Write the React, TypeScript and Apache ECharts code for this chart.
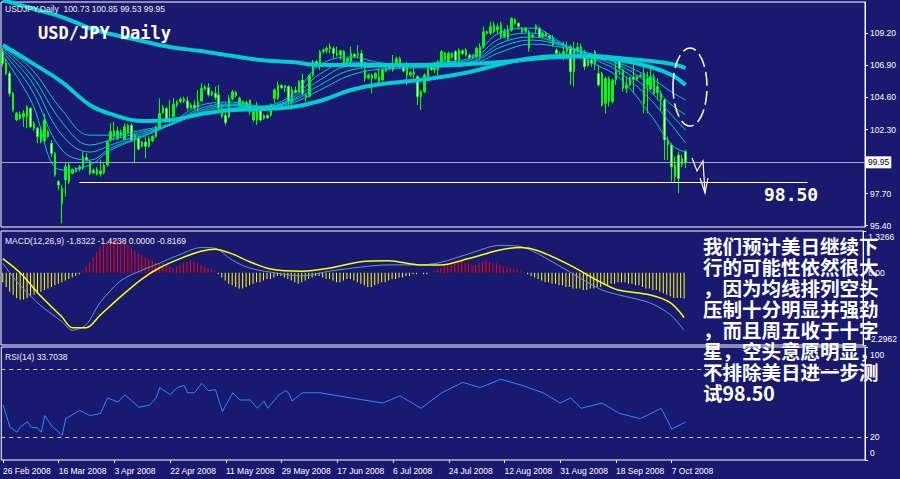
import React, { useEffect, useRef } from 'react';
import * as echarts from 'echarts';

const N_SLOTS = 248;
const xTickIdx = [0, 16, 32, 48, 64, 80, 96, 112, 128, 144, 160, 176, 192];
const xTickLabels = ['26 Feb 2008', '16 Mar 2008', '3 Apr 2008', '22 Apr 2008', '11 May 2008', '29 May 2008', '17 Jun 2008', '6 Jul 2008', '24 Jul 2008', '12 Aug 2008', '31 Aug 2008', '18 Sep 2008', '7 Oct 2008'];

// [open, close, low, high]
const candles: number[][] = [
  [107.89, 107.05, 106.81, 108.13], [107.05, 106.33, 106.2, 107.4], [106.33, 104.9, 104.66, 106.45], [104.9, 103.7, 103.58, 105.0],
  [103.0, 103.46, 102.9, 103.55], [103.4, 103.1, 103.0, 103.6], [103.2, 103.46, 102.51, 103.7], [103.22, 103.94, 102.39, 104.06],
  [103.82, 102.51, 102.4, 103.9], [102.4, 102.74, 102.2, 102.9], [102.39, 101.79, 101.31, 102.51], [102.27, 101.43, 101.31, 102.51],
  [101.5, 103.0, 101.4, 103.45], [102.15, 101.8, 101.7, 102.3], [101.31, 100.59, 100.35, 101.55], [100.59, 99.04, 98.92, 100.71],
  [98.56, 98.32, 97.96, 98.68], [98.08, 97.0, 95.57, 98.32], [98.68, 99.63, 97.48, 99.87], [99.75, 98.56, 98.4, 99.9],
  [99.16, 99.4, 99.1, 99.5], [99.3, 99.5, 99.2, 99.6], [99.45, 99.63, 99.3, 99.75], [99.51, 100.35, 99.4, 100.71],
  [100.3, 100.1, 100.0, 100.6], [99.99, 99.16, 99.04, 100.11], [99.2, 99.4, 99.1, 99.5], [99.45, 99.1, 99.0, 99.6],
  [99.1, 99.35, 98.92, 100.11], [99.2, 99.75, 99.1, 99.9], [99.75, 101.43, 99.63, 101.55], [101.55, 102.15, 101.4, 102.74],
  [102.2, 101.8, 101.55, 102.86], [101.7, 102.2, 101.55, 102.5], [102.1, 101.85, 101.7, 102.3], [101.6, 102.5, 101.55, 102.74],
  [102.1, 102.6, 102.0, 102.7], [102.6, 101.55, 101.43, 102.74], [101.6, 101.9, 99.87, 102.0], [101.7, 100.9, 100.83, 101.9],
  [101.1, 101.4, 101.0, 101.5], [101.4, 101.1, 100.23, 101.79], [101.1, 101.65, 101.0, 101.8], [101.5, 101.8, 101.4, 101.9],
  [101.8, 102.5, 101.7, 102.6], [102.45, 103.46, 102.39, 104.54], [103.5, 103.9, 103.4, 104.06], [103.8, 103.1, 103.0, 103.9],
  [103.1, 102.9, 102.74, 104.42], [103.2, 104.1, 103.2, 104.54], [104.05, 104.3, 103.9, 104.4], [104.3, 104.5, 104.2, 104.6],
  [104.5, 104.35, 104.2, 104.66], [104.35, 103.85, 103.7, 104.66], [103.85, 104.05, 103.8, 104.2], [104.05, 103.85, 103.7, 104.42],
  [103.9, 104.3, 103.6, 105.14], [104.35, 105.26, 104.3, 105.62], [105.2, 105.38, 105.1, 105.5], [105.3, 104.8, 104.66, 105.62],
  [104.8, 105.0, 104.7, 105.1], [104.9, 104.6, 104.42, 105.38], [104.78, 103.82, 103.7, 105.5], [103.82, 103.25, 103.1, 103.94],
  [103.3, 102.8, 102.6, 103.46], [103.2, 104.5, 103.1, 104.78], [104.5, 105.0, 104.4, 105.14], [104.95, 104.75, 104.6, 105.1],
  [104.06, 104.54, 103.94, 104.66], [104.3, 103.95, 103.9, 104.4], [104.0, 104.25, 103.95, 104.35], [104.42, 103.58, 103.34, 104.45],
  [102.98, 103.58, 102.86, 103.7], [102.98, 103.94, 102.62, 104.3], [103.94, 102.98, 102.9, 104.0], [103.1, 103.3, 103.0, 103.4],
  [103.3, 103.15, 103.05, 103.4], [103.34, 104.06, 103.22, 104.18], [104.54, 105.14, 104.18, 105.26], [104.54, 105.5, 104.42, 105.74],
  [105.45, 105.3, 105.2, 105.55], [105.3, 105.45, 105.0, 105.5], [105.38, 104.3, 103.94, 105.5], [104.3, 105.14, 103.94, 105.38],
  [105.1, 104.95, 104.9, 105.38], [105.0, 105.74, 104.95, 105.85], [105.85, 104.9, 104.78, 106.33], [104.78, 104.6, 104.3, 104.9],
  [104.66, 106.21, 104.6, 106.3], [106.21, 107.17, 106.09, 107.29], [107.17, 106.93, 106.81, 107.29], [106.81, 107.89, 106.57, 108.01],
  [107.9, 108.01, 107.75, 108.1], [108.0, 108.13, 107.77, 108.25], [108.1, 108.25, 107.77, 108.49], [108.13, 107.77, 107.41, 108.25],
  [107.75, 107.65, 107.53, 108.25], [107.65, 107.95, 107.29, 108.01], [107.89, 107.17, 107.05, 108.01], [107.2, 107.4, 107.1, 107.45],
  [107.17, 107.77, 107.05, 108.25], [107.7, 107.55, 107.45, 107.8], [107.65, 107.77, 107.41, 108.37], [107.77, 106.81, 106.69, 108.01],
  [106.57, 105.97, 105.74, 106.69], [106.0, 106.21, 105.9, 106.3], [106.2, 105.97, 104.9, 106.33], [105.97, 106.33, 105.9, 106.4],
  [106.09, 105.74, 105.62, 106.69], [105.85, 106.57, 105.74, 106.69], [106.5, 106.65, 106.4, 106.75], [106.65, 106.8, 106.55, 106.9],
  [106.57, 107.05, 106.45, 107.65], [107.05, 107.38, 106.81, 107.53], [107.41, 106.81, 106.69, 107.53], [106.81, 106.5, 106.4, 106.9],
  [106.81, 106.21, 105.5, 107.17], [106.21, 106.4, 106.05, 106.5], [106.45, 106.25, 105.97, 106.69], [106.09, 104.66, 104.06, 106.21],
  [104.66, 105.02, 103.7, 105.14], [105.02, 106.21, 104.9, 106.33], [106.09, 106.81, 105.97, 106.93], [106.8, 106.6, 106.5, 106.95],
  [106.6, 106.75, 106.33, 106.93], [106.57, 107.17, 105.97, 107.29], [107.17, 107.89, 107.05, 108.01], [107.77, 107.29, 107.17, 107.89],
  [107.17, 107.77, 107.05, 107.89], [107.75, 107.45, 107.4, 107.85], [107.89, 107.29, 107.17, 108.01], [107.29, 108.01, 107.17, 108.13],
  [107.95, 107.75, 107.65, 108.05], [108.01, 107.65, 107.53, 108.13], [107.65, 107.45, 107.35, 107.75], [107.45, 107.6, 107.35, 107.7],
  [107.53, 108.13, 107.41, 108.25], [107.53, 108.25, 107.41, 108.49], [108.25, 109.32, 108.13, 109.68], [109.32, 109.2, 109.1, 109.4],
  [109.2, 109.68, 109.1, 110.04], [109.8, 109.32, 109.2, 110.04], [109.45, 109.68, 109.2, 109.92], [109.8, 108.97, 108.85, 110.04],
  [108.97, 109.32, 108.85, 109.56], [108.85, 109.44, 108.73, 109.8], [109.44, 110.28, 109.32, 110.35], [110.2, 109.92, 109.8, 110.28],
  [109.92, 109.7, 109.6, 110.0], [109.56, 109.32, 109.2, 109.68], [109.35, 109.55, 109.25, 109.65], [109.32, 108.13, 107.89, 109.44],
  [108.95, 109.1, 108.85, 109.2], [109.75, 109.5, 109.2, 109.85], [109.56, 108.97, 108.85, 109.65], [108.97, 109.2, 108.85, 109.3],
  [109.2, 109.0, 108.9, 109.3], [109.0, 108.85, 108.7, 109.1], [108.85, 108.37, 108.25, 109.08], [108.0, 107.77, 107.53, 108.13],
  [107.75, 107.6, 107.5, 107.9], [107.65, 107.89, 107.29, 108.61], [107.89, 108.13, 107.41, 108.61], [108.25, 106.45, 105.5, 108.37],
  [106.45, 107.95, 105.38, 108.61], [107.95, 108.2, 107.8, 108.55], [108.25, 107.65, 107.41, 108.49], [107.65, 106.81, 106.57, 108.01],
  [106.9, 107.3, 106.8, 107.45], [107.3, 107.05, 106.81, 107.65], [107.89, 107.05, 106.57, 108.01], [106.33, 105.5, 105.38, 106.93],
  [106.33, 104.06, 103.94, 106.45], [104.18, 105.97, 103.46, 106.09], [105.97, 104.3, 103.94, 106.09], [104.3, 105.85, 104.18, 105.97],
  [105.85, 106.57, 105.5, 107.17], [107.29, 106.69, 106.21, 107.41], [106.57, 105.26, 105.02, 106.69], [105.26, 105.5, 104.9, 106.09],
  [105.5, 106.05, 105.4, 106.1], [106.05, 105.9, 104.9, 106.93], [105.9, 106.1, 105.8, 106.15], [106.1, 106.2, 106.0, 106.3],
  [106.33, 104.18, 103.46, 106.93], [105.5, 105.97, 103.46, 106.45], [105.2, 106.09, 105.14, 106.81], [106.09, 104.9, 104.78, 106.33],
  [104.95, 105.4, 104.42, 105.97], [104.9, 104.42, 103.7, 105.14], [104.42, 101.55, 100.11, 104.54], [101.55, 101.19, 100.11, 101.79],
  [101.19, 99.63, 98.56, 101.31], [98.92, 99.75, 98.56, 100.35], [100.47, 98.8, 97.72, 100.71], [99.8, 100.2, 99.6, 100.5],
  [100.73, 99.95, 99.53, 100.85],
];

// moving averages read at sample bars
const maIdx = [0, 8, 17, 25, 31, 40, 48, 57, 66, 74, 83, 91, 100, 109, 117, 126, 134, 143, 152, 160, 169, 177, 186, 192, 196];
const maLong = [111.59, 111.02, 110.37, 109.58, 109.15, 108.65, 108.22, 107.93, 107.57, 107.29, 107.14, 106.93, 106.93, 106.93, 106.93, 106.93, 107.0, 107.14, 107.36, 107.5, 107.57, 107.43, 107.22, 107.0, 106.71];
const maMid = [108.36, 107.14, 105.71, 104.06, 103.42, 102.91, 102.98, 103.42, 103.7, 103.77, 103.92, 104.35, 105.14, 105.57, 105.78, 106.07, 106.43, 107.0, 107.43, 107.57, 107.5, 107.29, 106.79, 106.21, 105.49];
const ema1 = [107.64, 104.42, 99.4, 99.75, 100.83, 101.76, 102.69, 104.06, 104.27, 103.99, 104.77, 106.93, 107.5, 107.07, 107.0, 107.14, 107.43, 109.29, 109.58, 108.58, 107.14, 106.0, 103.34, 101.19, 100.69];
const ema2 = [107.86, 105.28, 100.83, 100.11, 100.97, 101.83, 102.62, 103.84, 104.13, 103.91, 104.56, 106.28, 107.14, 107.0, 106.93, 107.07, 107.29, 108.86, 109.22, 108.5, 107.43, 106.42, 104.42, 102.62, 101.33];
const ema3 = [108.0, 105.85, 101.9, 100.69, 101.19, 101.98, 102.62, 103.7, 104.06, 103.91, 104.42, 105.85, 106.86, 106.86, 106.86, 107.0, 107.14, 108.5, 108.94, 108.43, 107.57, 106.71, 104.99, 103.34, 102.26];
const ema4 = [108.15, 106.28, 102.84, 101.19, 101.55, 102.12, 102.62, 103.56, 103.99, 103.91, 104.34, 105.49, 106.57, 106.78, 106.78, 106.93, 107.07, 108.22, 108.72, 108.36, 107.72, 106.93, 105.49, 104.06, 103.34];
const ema5 = [108.22, 106.71, 103.7, 101.9, 101.9, 102.26, 102.69, 103.41, 103.84, 103.91, 104.2, 105.13, 106.21, 106.64, 106.71, 106.78, 106.93, 107.86, 108.43, 108.22, 107.72, 107.07, 106.0, 104.99, 104.42];

// MACD (histogram per bar, lines at sample bars)
const macdHist = [
  -0.3, -0.45, -0.6, -0.7, -0.8, -0.85, -0.85, -0.8, -0.75, -0.7, -0.65,
  -0.6, -0.55, -0.5, -0.45, -0.4, -0.35, -0.3, -0.25, -0.2, -0.15, -0.1, -0.05, 0.05,
  0.2, 0.35, 0.5, 0.65, 0.8, 0.9, 1.0, 1.05, 1.1, 1.05, 1.0, 0.95, 0.9, 0.8, 0.7, 0.6, 0.55,
  0.5, 0.45, 0.4, 0.35, 0.3, 0.3, 0.25, 0.2, 0.15, 0.2, 0.25, 0.3, 0.35, 0.4, 0.35, 0.3, 0.25, 0.2, 0.15, 0.1,
  0.05, -0.05, -0.15, -0.25, -0.35, -0.4, -0.45, -0.5, -0.5, -0.45, -0.4, -0.35, -0.3, -0.3, -0.25, -0.2, -0.2, -0.15, -0.1, -0.1,
  -0.15, -0.2, -0.25, -0.3, -0.35, -0.3, -0.25, -0.2, -0.15, -0.1, -0.1, -0.15, -0.2, -0.2, -0.25, -0.3, -0.3, -0.25, -0.2, -0.2,
  -0.25, -0.3, -0.35, -0.4, -0.45, -0.45, -0.4, -0.35, -0.3, -0.3, -0.25, -0.2, -0.2, -0.15, -0.15, -0.1, -0.1, -0.05, -0.05, 0.0, -0.05, -0.05, 0.0, 0.05, 0.1,
  0.15, 0.2, 0.25, 0.3, 0.3, 0.35, 0.35, 0.3, 0.3, 0.25, 0.25, 0.3, 0.35, 0.4, 0.35, 0.3, 0.3, 0.25, 0.2, 0.2, 0.15, 0.1, 0.1, 0.05, 0.0,
  -0.05, -0.1, -0.15, -0.2, -0.25, -0.3, -0.3, -0.35, -0.35, -0.4, -0.4, -0.45, -0.45, -0.5, -0.5, -0.5, -0.55, -0.55, -0.5, -0.5, -0.45, -0.45, -0.4, -0.4, -0.35,
  -0.35, -0.3, -0.3, -0.3, -0.35, -0.35, -0.4, -0.4, -0.45, -0.5, -0.5, -0.55, -0.55, -0.6, -0.65, -0.7, -0.75, -0.8, -0.8, -0.8, -0.82,
];
const lineIdx = [0, 5, 11, 17, 20, 24, 28, 34, 40, 45, 51, 57, 61, 66, 71, 77, 86, 94, 103, 111, 120, 126, 134, 143, 149, 154, 163, 172, 177, 186, 192, 196];
const difVals = [0.3, -0.4, -1.05, -1.55, -1.83, -1.65, -0.95, -0.25, 0.08, 0.3, 0.58, 0.8, 0.78, 0.4, 0.15, 0.02, -0.1, 0.05, 0.18, 0.25, 0.25, 0.33, 0.6, 0.87, 0.83, 0.6, 0.03, -0.53, -0.7, -0.95, -1.33, -1.83];
const deaVals = [0.45, 0.0, -0.75, -1.4, -1.75, -1.75, -1.35, -0.75, -0.2, 0.15, 0.45, 0.68, 0.75, 0.6, 0.35, 0.12, 0.05, 0.15, 0.35, 0.38, 0.25, 0.25, 0.45, 0.72, 0.8, 0.7, 0.25, -0.3, -0.55, -0.7, -0.95, -1.42];

// RSI
const rsiIdx = [0, 2, 4, 5, 7, 8, 10, 11, 12, 14, 17, 18, 22, 25, 28, 30, 33, 35, 37, 39, 42, 44, 45, 48, 50, 52, 53, 55, 57, 59, 61, 63, 66, 68, 71, 73, 75, 76, 79, 81, 82, 83, 86, 91, 100, 109, 114, 120, 126, 132, 137, 143, 149, 155, 160, 163, 166, 172, 177, 183, 189, 192, 195, 196];
const rsiVals = [48.8, 29.2, 24.6, 29.2, 33.8, 29.2, 28.3, 24.6, 39.3, 30.1, 21.9, 36.6, 43.9, 39.3, 41.2, 54.9, 51.3, 57.7, 52.2, 46.7, 48.5, 54.9, 64.1, 57.7, 64.1, 66.0, 59.5, 59.5, 67.8, 61.4, 62.3, 43.0, 59.5, 53.1, 53.1, 45.8, 52.2, 45.8, 56.8, 61.4, 59.5, 52.2, 59.5, 59.5, 54.9, 50.4, 56.8, 45.8, 59.5, 68.7, 64.1, 71.5, 66.0, 59.5, 50.4, 54.9, 45.8, 50.4, 41.2, 36.6, 45.8, 27.4, 32.0, 33.7];

const priceTicks = [95.4, 97.7, 102.3, 104.6, 106.9, 109.2];
const macdTicks = [1.3266, 0, -2.2962];
const rsiTicks = [100, 20, 0];
const rsiLevels = [80, 20];
const lastPrice = 99.95;
const supportLevel = 98.5;
const supportFrom = 22;
const supportTo = 231;

const noteLines = ['我们预计美日继续下', '行的可能性依然很大', '，因为均线排列空头', '压制十分明显并强劲', '，而且周五收于十字', '星，空头意愿明显，', '不排除美日进一步测', '试98.50'];

const BG = '#191970';
const CYAN = '#00ced1';
const UI_FONT = '"Liberation Sans", Arial, sans-serif';

export default function App() {
  const ref = useRef<HTMLDivElement>(null);
  useEffect(() => {
    const chart = echarts.init(ref.current!, null, { renderer: 'svg' });
    const cats = Array.from({ length: N_SLOTS }, (_, i) => String(i));
    const labelMap = new Map<number, string>(xTickIdx.map((i, k) => [i, xTickLabels[k]]));
    const pair = (idx: number[], vals: number[]) => idx.map((i, k) => [i, vals[k]]);

    const grids = [
      { left: 1, right: 35, top: 2, height: 225 },
      { left: 1, right: 35, top: 231, height: 114 },
      { left: 1, right: 35, top: 347, height: 113 },
    ].map((g) => ({ ...g, show: true, borderColor: '#ffffff', borderWidth: 1, backgroundColor: 'transparent' }));

    const xAxes = [0, 1, 2].map((i) => ({
      type: 'category',
      gridIndex: i,
      data: cats,
      boundaryGap: true,
      axisLine: { show: false },
      axisTick: {
        show: i === 2,
        alignWithLabel: true,
        interval: (idx: number) => labelMap.has(idx),
        length: 3,
        lineStyle: { color: '#ffffff' },
      },
      axisLabel: {
        show: i === 2,
        interval: (idx: number) => labelMap.has(idx),
        formatter: (_v: string, idx: number) => labelMap.get(idx) || '',
        align: 'left',
        color: '#ffffff',
        fontSize: 8.5,
        fontFamily: UI_FONT,
        margin: 6,
      },
      splitLine: { show: false },
    }));

    const yCommon = {
      type: 'value',
      position: 'right',
      splitLine: { show: false },
      axisLine: { show: true, lineStyle: { color: '#ffffff' } },
    };
    const labelStyle = { color: '#ffffff', fontSize: 8.5, fontFamily: UI_FONT, margin: 5 };
    // edge labels are pushed inside the panel by an empty line above / below them
    const edgeLabel = (v: number, max: number, min: number, text: string) =>
      v === max ? '\n' + text : v === min ? text + '\n' : text;

    const option: any = {
      animation: false,
      backgroundColor: BG,
      grid: grids,
      xAxis: xAxes,
      yAxis: [
        {
          ...yCommon,
          gridIndex: 0,
          min: 95.31,
          max: 111.45,
          axisTick: { show: true, length: 3, customValues: priceTicks, lineStyle: { color: '#ffffff' } },
          axisLabel: { ...labelStyle, customValues: priceTicks, formatter: (v: number) => v.toFixed(2) },
        },
        {
          ...yCommon,
          gridIndex: 1,
          min: -2.2962,
          max: 1.3266,
          axisTick: { show: true, length: 3, customValues: macdTicks, lineStyle: { color: '#ffffff' } },
          axisLabel: {
            ...labelStyle,
            customValues: macdTicks,
            lineHeight: 12,
            formatter: (v: number) => edgeLabel(v, 1.3266, -2.2962, v === 0 ? '0.00' : v.toFixed(4)),
          },
        },
        {
          ...yCommon,
          gridIndex: 2,
          min: 0,
          max: 100,
          axisTick: { show: true, length: 3, customValues: rsiTicks, lineStyle: { color: '#ffffff' } },
          axisLabel: {
            ...labelStyle,
            customValues: rsiTicks,
            lineHeight: 15,
            formatter: (v: number) => edgeLabel(v, 100, 0, String(v)),
          },
        },
      ],
      series: [
        {
          type: 'candlestick',
          xAxisIndex: 0,
          yAxisIndex: 0,
          barWidth: 2,
          data: candles,
          itemStyle: { color: '#00ff00', color0: '#ffffff', borderColor: '#00ff00', borderColor0: '#00ff00', borderWidth: 1 },
          z: 3,
          markLine: {
            silent: true,
            symbol: ['none', 'none'],
            animation: false,
            data: [
              {
                yAxis: lastPrice,
                lineStyle: { color: '#a8a8b4', width: 1, type: 'solid' },
                label: {
                  show: true,
                  position: 'end',
                  formatter: lastPrice.toFixed(2),
                  color: '#000000',
                  backgroundColor: '#ffffff',
                  fontSize: 8.5,
                  fontFamily: UI_FONT,
                  padding: [2, 2, 1, 2],
                  distance: 1,
                },
              },
              [
                { coord: [cats[supportFrom], supportLevel], lineStyle: { color: '#ffffff', width: 1.2, type: 'solid' }, label: { show: false } },
                { coord: [cats[supportTo], supportLevel] },
              ],
            ],
          },
        },
        ...[
          { d: maLong, w: 4 },
          { d: maMid, w: 4 },
          { d: ema5, w: 1 },
          { d: ema4, w: 1 },
          { d: ema3, w: 1 },
          { d: ema2, w: 1 },
          { d: ema1, w: 1 },
        ].map((m) => ({
          type: 'line',
          xAxisIndex: 0,
          yAxisIndex: 0,
          data: pair(maIdx, m.d),
          showSymbol: false,
          smooth: 0.4,
          lineStyle: { color: CYAN, width: m.w },
          z: 4,
        })),
        {
          type: 'bar',
          xAxisIndex: 1,
          yAxisIndex: 1,
          barWidth: 1,
          data: macdHist.map((v) => ({ value: v, itemStyle: { color: v >= 0 ? '#ff0000' : '#ffff00' } })),
        },
        {
          type: 'line',
          xAxisIndex: 1,
          yAxisIndex: 1,
          data: pair(lineIdx, difVals),
          showSymbol: false,
          smooth: 0.3,
          lineStyle: { color: '#5a9bd5', width: 1 },
        },
        {
          type: 'line',
          xAxisIndex: 1,
          yAxisIndex: 1,
          data: pair(lineIdx, deaVals),
          showSymbol: false,
          smooth: 0.3,
          lineStyle: { color: '#ffff00', width: 1.5 },
        },
        {
          type: 'line',
          xAxisIndex: 2,
          yAxisIndex: 2,
          data: pair(rsiIdx, rsiVals),
          showSymbol: false,
          lineStyle: { color: '#1e90ff', width: 1 },
          markLine: {
            silent: true,
            symbol: ['none', 'none'],
            label: { show: false },
            lineStyle: { color: '#d0d0d0', type: [4, 4], width: 1 },
            data: rsiLevels.map((v) => ({ yAxis: v })),
          },
        },
      ],
      graphic: [
        { type: 'text', x: 5, y: 4, z: 10, style: { text: 'USDJPY,Daily  100.73 100.85 99.53 99.95', fill: '#f0f0f0', font: `8.5px ${UI_FONT}` } },
        { type: 'text', x: 38, y: 24, z: 10, style: { text: 'USD/JPY Daily', fill: '#ffffff', font: 'bold 17px "DejaVu Sans Mono", monospace' } },
        { type: 'text', x: 5, y: 236, z: 10, style: { text: 'MACD(12,26,9) -1.8322 -1.4238 0.0000 -0.8169', fill: '#f0f0f0', font: `8.5px ${UI_FONT}` } },
        { type: 'text', x: 5, y: 352, z: 10, style: { text: 'RSI(14) 33.7038', fill: '#f0f0f0', font: `8.5px ${UI_FONT}` } },
        { type: 'text', x: 764, y: 185, z: 10, style: { text: '98.50', fill: '#ffffff', font: 'bold 18px "DejaVu Sans Mono", monospace' } },
        {
          type: 'ellipse',
          z: 10,
          shape: { cx: 690, cy: 87, rx: 17, ry: 39 },
          style: { fill: 'none', stroke: '#ffffff', lineWidth: 1.5, lineDash: [14, 5] },
        },
        {
          type: 'polyline',
          z: 10,
          shape: { points: [[692, 158], [697, 171], [703, 161], [705, 193]] },
          style: { fill: 'none', stroke: '#ffffff', lineWidth: 1.2 },
        },
        {
          type: 'polyline',
          z: 10,
          shape: { points: [[700, 178], [705, 193], [708, 178]] },
          style: { fill: 'none', stroke: '#ffffff', lineWidth: 1.2 },
        },
        {
          type: 'text',
          x: 703,
          y: 235,
          z: 20,
          style: {
            text: noteLines.join('\n'),
            fill: '#ffffff',
            font: 'bold 19.5px "Noto Sans CJK SC", sans-serif',
            lineHeight: 21,
          },
        },
      ],
    };
    chart.setOption(option);
    return () => chart.dispose();
  }, []);
  return <div ref={ref} style={{ position: 'absolute', left: 0, top: 0, width: 900, height: 479 }} />;
}
